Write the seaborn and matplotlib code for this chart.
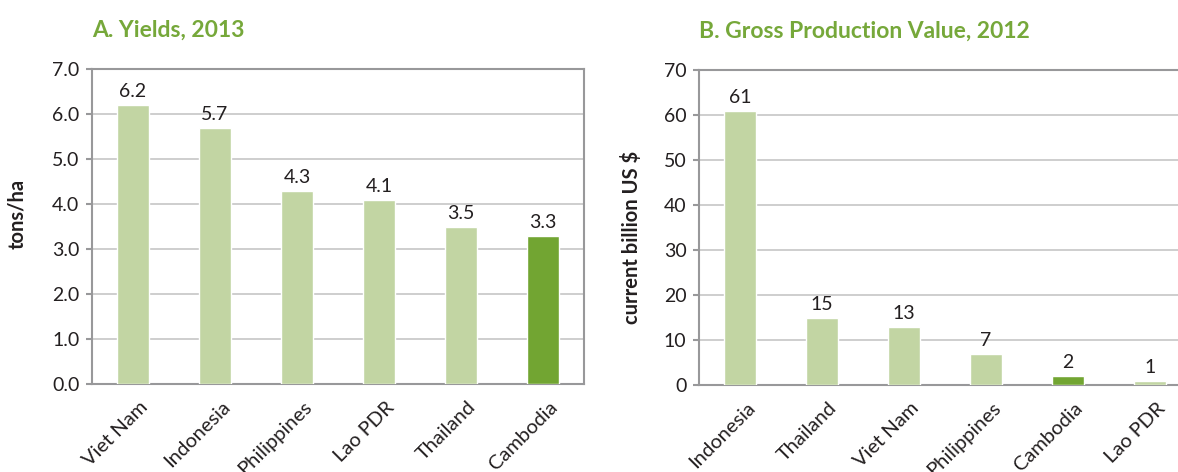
import matplotlib
matplotlib.use("Agg")
import matplotlib.pyplot as plt
import matplotlib.transforms as mtransforms
import seaborn as sns
import pandas as pd
from matplotlib.ticker import FixedLocator

# Panel A: rice yields, 2013 (tons/ha)
yield_countries = ["Viet Nam", "Indonesia", "Philippines", "Lao PDR", "Thailand", "Cambodia"]
yield_values = [6.2, 5.7, 4.3, 4.1, 3.5, 3.3]
yield_labels = ["6.2", "5.7", "4.3", "4.1", "3.5", "3.3"]
yield_ticks = [0, 1, 2, 3, 4, 5, 6, 7]

# Panel B: gross production value, 2012 (current billion US $)
gpv_countries = ["Indonesia", "Thailand", "Viet Nam", "Philippines", "Cambodia", "Lao PDR"]
gpv_values = [61, 15, 13, 7, 2, 1]
gpv_labels = ["61", "15", "13", "7", "2", "1"]
gpv_ticks = [0, 10, 20, 30, 40, 50, 60, 70]

highlight = "Cambodia"
LIGHT = "#c2d5a3"
DARK = "#72a532"
TITLE_GREEN = "#76a83a"
TEXT = "#231f20"
SPINE = "#98989a"
GRID = "#c6c6c6"

sns.set_theme(style="white")
plt.rcParams["font.family"] = ["Lato", "DejaVu Sans"]

W, H = 1178, 472
fig = plt.figure(figsize=(W / 100, H / 100), dpi=100)


def axes_px(x0, y0, x1, y1):
    return fig.add_axes([x0 / W, 1 - y1 / H, (x1 - x0) / W, (y1 - y0) / H])


def draw_panel(ax, countries, values, labels, ticks, fmt, title, ylabel, ylabel_xy):
    df = pd.DataFrame({"country": countries, "value": values})
    palette = {c: (DARK if c == highlight else LIGHT) for c in countries}
    sns.barplot(data=df, x="country", y="value", hue="country", palette=palette,
                order=countries, hue_order=countries, width=0.4, saturation=1,
                legend=False, ax=ax, zorder=3)
    for i, (v, lab) in enumerate(zip(values, labels)):
        ax.annotate(lab, (i, v), xytext=(0, 5.5), textcoords="offset points",
                    ha="center", va="baseline", fontsize=14, color=TEXT)
    ax.set_ylim(ticks[0], ticks[-1])
    ax.set_xlim(-0.5, len(countries) - 0.5)
    ax.set_yticks(ticks)
    ax.set_yticklabels([fmt.format(t) for t in ticks])
    ax.yaxis.grid(True, color=GRID, linewidth=1.2, zorder=0)
    ax.set_axisbelow(True)
    for s in ax.spines.values():
        s.set_visible(True)
        s.set_color(SPINE)
        s.set_linewidth(1.5)
    # category ticks sit on the boundaries between bars
    ax.xaxis.set_minor_locator(FixedLocator([i - 0.5 for i in range(len(countries) + 1)]))
    ax.tick_params(axis="x", which="major", length=0, pad=6)
    ax.tick_params(axis="x", which="minor", length=5, width=1.5, color=SPINE, direction="out")
    ax.tick_params(axis="y", which="major", length=4, width=1.5, color=SPINE,
                   direction="out", pad=5, labelsize=14, labelcolor=TEXT, left=True)
    ax.set_xticks(range(len(countries)))
    ax.set_xticklabels(countries, rotation=45, ha="right", va="top",
                       rotation_mode="anchor", fontsize=14.5, color=TEXT)
    shift = mtransforms.ScaledTranslation(6 / 100, -6 / 100, fig.dpi_scale_trans)
    for lab in ax.get_xticklabels():
        lab.set_transform(lab.get_transform() + shift)
    ax.set_xlabel("")
    ax.set_ylabel(ylabel, fontsize=14.5, fontweight="bold", color=TEXT)
    ax.yaxis.set_label_coords(*ylabel_xy)
    ax.set_title(title, loc="left", x=0.0, y=1.0, pad=23, fontsize=16.5,
                 fontweight="bold", color=TITLE_GREEN)


ax_a = axes_px(92, 69, 584, 384)
draw_panel(ax_a, yield_countries, yield_values, yield_labels, yield_ticks, "{:.1f}",
           "A. Yields, 2013", "tons/ha", (-0.132, 0.54))

ax_b = axes_px(699, 70, 1191, 385)
draw_panel(ax_b, gpv_countries, gpv_values, gpv_labels, gpv_ticks, "{:d}",
           "B. Gross Production Value, 2012", "current billion US $", (-0.116, 0.468))

fig.savefig("out.png", dpi=100)
